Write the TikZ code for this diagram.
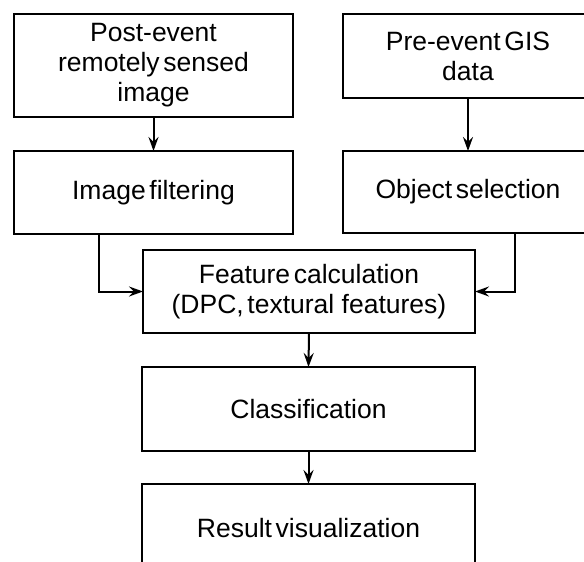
\documentclass[tikz,border=0pt]{standalone}
\usepackage{fontspec}
\setmainfont[WordSpace=0.5]{Liberation Sans}
\newfontfamily\widesp{Liberation Sans}
\usetikzlibrary{arrows.meta}

\tikzset{
  box/.style={draw, line width=2pt, rectangle, inner sep=0pt, outer sep=0pt,
    align=center, font=\fontsize{26.5}{30}\selectfont},
  arr/.style={line width=2pt, -{Stealth[length=14pt,width=10pt,inset=5pt]}},
}

\begin{document}
\begin{tikzpicture}[x=1pt,y=-1pt]
  \useasboundingbox (0,0) rectangle (584,562);
  \clip (0,0) rectangle (584,562);

  % input boxes
  \node[box, minimum width=279pt, minimum height=103pt] (post) at (153.5,65.5)
    {Post-event\\remotely sensed\\image};
  \node[box, minimum width=250pt, minimum height=84pt] (pre) at (468,56)
    {Pre-event GIS\\data};

  % preprocessing
  \node[box, minimum width=279pt, minimum height=83pt] (imgf) at (153.5,192.5)
    {Image filtering};
  \node[box, minimum width=250pt, minimum height=82pt] (obj) at (468,192)
    {Object selection};

  % feature extraction and classification
  \node[box, minimum width=332pt, minimum height=83pt] (feat) at (309,291.5)
    {Feature calculation\\(DPC, textural{\widesp\ }features)};
  \node[box, minimum width=333pt, minimum height=84pt] (cls) at (308.5,409)
    {Classification};
  \node[box, minimum width=333pt, minimum height=88pt] (res) at (308.5,528)
    {Result visualization};

  % connectors
  \draw[arr] (post.south) -- (imgf.north);
  \draw[arr] (pre.south) -- (obj.north);
  \draw[arr] ([xshift=84.5pt]imgf.south west) |- (feat.west);
  \draw[arr] ([xshift=172pt]obj.south west) |- (feat.east);
  \draw[arr] (feat.south) -- (cls.north);
  \draw[arr] (cls.south) -- (res.north);
\end{tikzpicture}
\end{document}
